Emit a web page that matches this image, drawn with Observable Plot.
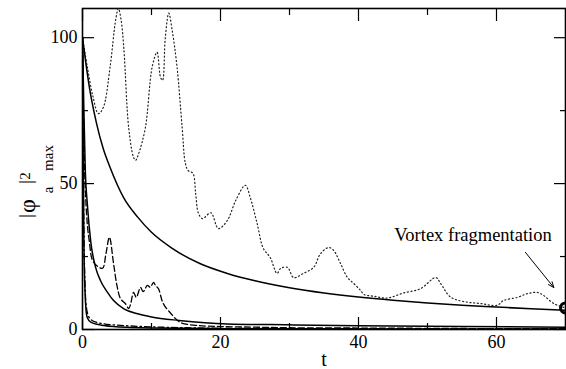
<!DOCTYPE html>
<html><head><meta charset="utf-8">
<script src="https://cdn.jsdelivr.net/npm/d3@7"></script>
<script src="https://cdn.jsdelivr.net/npm/@observablehq/plot@0.6"></script>
<style>html,body{margin:0;padding:0;background:#fff;}</style>
</head><body><div id="chart"></div>
<script>
// ---- data ----
const upperSolidT = [0,1,2,3,4,6,8,10,13,17,21,25,30,35,40,45,50,55,60,65,70];
const upperSolidY = [100,83,71,62,55.5,45,38.5,33.3,27.8,22.6,19.2,16.7,14.3,12.5,11.1,10,9.1,8.3,7.7,7.1,6.6];

const lowerSolidT = [0,0.2,0.4,0.7,1.2,1.9,2.6,3.6,4.5,6,8,10,14,21,30,40,55,70];
const lowerSolidY = [100,75,55,43,30,21.3,16.8,12.8,9.9,7.1,5.4,4.3,3.1,1.9,1.6,1.3,1.0,0.8];

const lowestSolidT = [0,0.1,0.2,0.35,0.5,0.7,1.2,1.9,3.1,4.5,7,10,20,40,70];
const lowestSolidY = [100,60,30,14,7,4,2.5,1.9,1.4,1.0,0.7,0.5,0.3,0.2,0.1];

const dashDotT = [0,0.1,0.2,0.35,0.5,0.8,1.2,2,3,5,7,10,15,20,40,70];
const dashDotY = [100,65,35,17,9,5,3.5,2.5,2,1.5,1.2,0.9,0.6,0.4,0.3,0.2];

const dashedT = [0,0.3,0.7,1.0,1.4,2.0,2.9,3.4,3.9,4.5,5.0,5.5,6.2,6.7,7.0,7.4,7.8,8.4,8.8,9.4,9.8,10.3,10.6,11.0,11.7,12.8,14.2,16.6,20,25,30,40,50,60,70];
const dashedY = [100,55,36,30,24,22,21,26,31.6,22.6,15,10.6,8.9,7.2,9,12.7,11,14.4,13,15.1,14.5,16.1,15,14,8.9,5.5,2.4,1.4,1.0,0.8,0.6,0.5,0.4,0.3,0.3];

const dottedT = [0,0.7,1.5,2.3,3,4,4.8,5.2,5.6,6,6.7,7.4,7.7,8.1,9.1,10.1,10.8,11.3,11.6,12,12.5,13,13.7,14.45,14.9,15.3,16.0,16.4,16.8,17.4,18.6,19.7,21,22.2,23.6,24.3,25.3,26.2,27.2,28.2,28.7,29.7,30.6,32,33.5,34.5,35.7,36.4,37.4,38.4,39.3,40.3,40.8,42.2,44.2,46.5,49,51.2,51.9,53.3,55.2,57.7,60.1,61,63,64.5,65.9,66.8,68.3,70];
const dottedY = [100,90,80,74,76,90,106,110,106,96,69,59,58,60,69,90,95,86.5,85.4,100,108.4,102.5,90,69,57,54.5,53.5,46.6,39.8,38,40,34.6,37.4,44.2,49.4,45.3,36.4,27.8,24.7,19.2,20.9,21.3,17.8,19.2,21.3,26,28.1,27.1,22.6,17.8,15.8,13.4,12,11.4,10.8,12.5,14,17.8,15.8,11.2,9.6,8.9,8.3,9.9,11,12.3,12.7,11.7,8.9,7.4];

const xMajor = [0,20,40,60];
const xMinor = [10,30,50];
const yMajor = [0,50,100];
const yMinor = [25,75];

const noteText = ["Vortex fragmentation"];
const noteT = [56.6];
const noteY = [30.2];
const arrowFrom = [64.2, 26.4];
const arrowTo = [68.3, 14.4];
const markerT = [70];
const markerY = [7.4];

// ---- tables ----
const toRows = (T, Y) => T.map((t, i) => ({t, y: Y[i]}));
const upper = toRows(upperSolidT, upperSolidY);
const lower = toRows(lowerSolidT, lowerSolidY);
const lowest = toRows(lowestSolidT, lowestSolidY);
const dashDot = toRows(dashDotT, dashDotY);
const dashed = toRows(dashedT, dashedY);
const dotted = toRows(dottedT, dottedY);
const notes = noteText.map((s, i) => ({s, t: noteT[i], y: noteY[i]}));
const arrows = [{x1: arrowFrom[0], y1: arrowFrom[1], x2: arrowTo[0], y2: arrowTo[1]}];
const markers = toRows(markerT, markerY);

const FONT = "'Liberation Serif', 'Times New Roman', serif";
const blank = () => "";
const svg = Plot.plot({
  width: 566, height: 369,
  marginLeft: 82, marginRight: 1, marginTop: 8, marginBottom: 40,
  style: {fontFamily: FONT, fontSize: "18px", background: "white", color: "black"},
  x: {domain: [0, 70]},
  y: {domain: [0, 110]},
  marks: [
    Plot.frame({stroke: "black", strokeWidth: 1.6}),
    // inward ticks, all four sides
    Plot.axisX({ticks: xMajor, anchor: "bottom", tickSize: -12, tickFormat: blank, label: null, strokeWidth: 1.2}),
    Plot.axisX({ticks: xMinor, anchor: "bottom", tickSize: -6, tickFormat: blank, label: null, strokeWidth: 1.2}),
    Plot.axisX({ticks: xMajor, anchor: "top", tickSize: -12, tickFormat: blank, label: null, strokeWidth: 1.2}),
    Plot.axisX({ticks: xMinor, anchor: "top", tickSize: -6, tickFormat: blank, label: null, strokeWidth: 1.2}),
    Plot.axisY({ticks: yMajor, anchor: "left", tickSize: -12, tickFormat: blank, label: null, strokeWidth: 1.2}),
    Plot.axisY({ticks: yMinor, anchor: "left", tickSize: -6, tickFormat: blank, label: null, strokeWidth: 1.2}),
    Plot.axisY({ticks: yMajor, anchor: "right", tickSize: -12, tickFormat: blank, label: null, strokeWidth: 1.2}),
    Plot.axisY({ticks: yMinor, anchor: "right", tickSize: -6, tickFormat: blank, label: null, strokeWidth: 1.2}),
    // tick labels
    Plot.axisX({ticks: xMajor, anchor: "bottom", tickSize: 0, tickPadding: 6, label: null, fontSize: 18}),
    Plot.axisY({ticks: yMajor, anchor: "left", tickSize: 0, tickPadding: 5, label: null, fontSize: 18}),
    Plot.text(["t"], {frameAnchor: "bottom", dy: 36, lineAnchor: "bottom", fontSize: 20, text: d => d}),
    // curves
    Plot.line(dotted, {x: "t", y: "y", stroke: "#222", strokeWidth: 1.2, strokeDasharray: "1.1,2.6", curve: "catmull-rom", clip: true}),
    Plot.line(upper, {x: "t", y: "y", stroke: "black", strokeWidth: 1.5, curve: "monotone-x", clip: true}),
    Plot.line(lower, {x: "t", y: "y", stroke: "black", strokeWidth: 1.5, curve: "monotone-x", clip: true}),
    Plot.line(lowest, {x: "t", y: "y", stroke: "black", strokeWidth: 1.5, curve: "monotone-x", clip: true}),
    Plot.line(dashDot, {x: "t", y: "y", stroke: "black", strokeWidth: 1.3, strokeDasharray: "6,3,1.5,3", curve: "monotone-x", clip: true}),
    Plot.line(dashed, {x: "t", y: "y", stroke: "black", strokeWidth: 1.3, strokeDasharray: "6,3", curve: "catmull-rom", clip: true}),
    // annotation
    Plot.text(notes, {x: "t", y: "y", text: "s", textAnchor: "middle", lineAnchor: "bottom", fontSize: 18.5}),
    Plot.arrow(arrows, {x1: "x1", y1: "y1", x2: "x2", y2: "y2", stroke: "black", strokeWidth: 1, headLength: 9, headAngle: 45, bend: 0}),
    Plot.dot(markers, {x: "t", y: "y", r: 5, stroke: "black", strokeWidth: 3, fill: "none"})
  ]
});

// y-axis label |φa|²max (rotated, with sub/superscripts)
const g = d3.select(svg).append("text")
  .attr("transform", "rotate(-90)")
  .attr("fill", "black")
  .style("font-family", FONT);
const parts = [
  {s: "|", x: -216, y: 32, fs: 18},
  {s: "φ", x: -206, y: 35, fs: 24},
  {s: "a", x: -190, y: 53, fs: 15},
  {s: "|", x: -182, y: 32, fs: 18},
  {s: "2", x: -176, y: 30, fs: 15},
  {s: "max", x: -158, y: 53, fs: 15}
];
for (const p of parts) {
  g.append("tspan").attr("x", p.x).attr("y", p.y).style("font-size", p.fs + "px").text(p.s);
}

document.getElementById("chart").appendChild(svg);
</script></body></html>
